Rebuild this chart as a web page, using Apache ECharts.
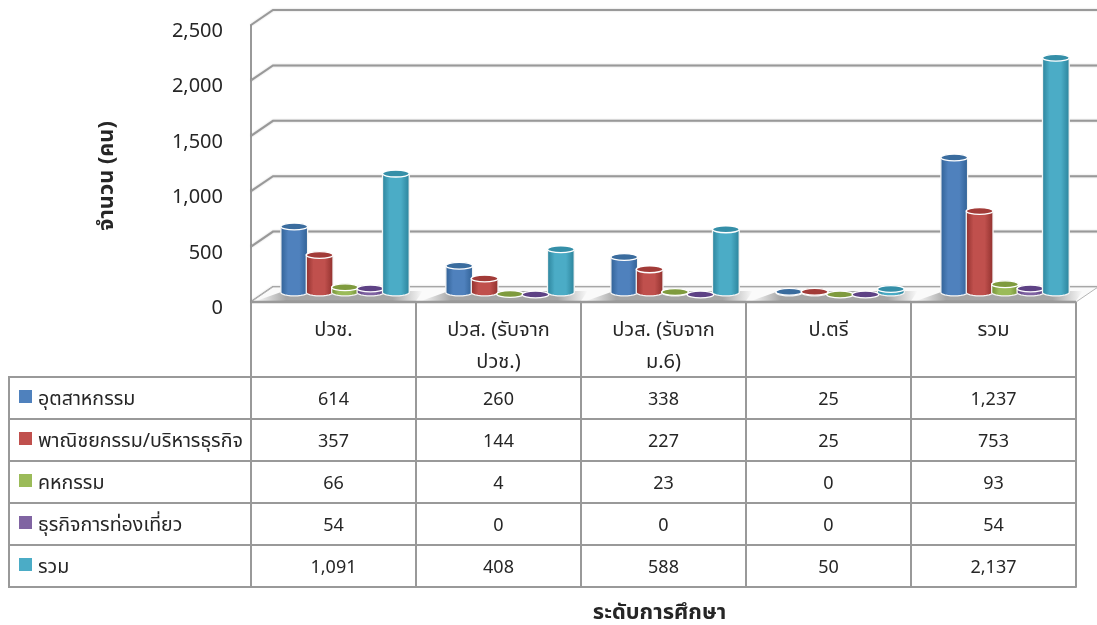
<!DOCTYPE html>
<html><head><meta charset="utf-8">
<style>html,body{margin:0;padding:0;background:#fff}#c{width:1097px;height:625px}</style>
<script src="https://cdn.jsdelivr.net/npm/echarts@6/dist/echarts.min.js"></script>
</head><body><div id="c"></div>
<script>
const categories = ['ปวช.', 'ปวส. (รับจาก\nปวช.)', 'ปวส. (รับจาก\nม.6)', 'ป.ตรี', 'รวม'];
const seriesNames = ['อุตสาหกรรม', 'พาณิชยกรรม/บริหารธุรกิจ', 'คหกรรม', 'ธุรกิจการท่องเที่ยว', 'รวม'];
const industry = [614, 260, 338, 25, 1237];
const commerce = [357, 144, 227, 25, 753];
const homeEconomics = [66, 4, 23, 0, 93];
const tourism = [54, 0, 0, 0, 54];
const total = [1091, 408, 588, 50, 2137];
const yTicks = [0, 500, 1000, 1500, 2000, 2500];
const seriesValues = [industry, commerce, homeEconomics, tourism, total];
const colors = ['#4F81BD', '#C0504D', '#9BBB59', '#8064A2', '#4BACC6'];
const darks = ['#2F5F93', '#8E2F2C', '#6F8C33', '#54397A', '#2A8199'];
const tops = ['#3A6C9E', '#A23B38', '#7F9B3E', '#5E4285', '#358FA8'];

const FONT = '"Noto Sans Thai","Noto Sans","Open Sans",sans-serif';
const GRID_LINE = '#999999';
const chart = echarts.init(document.getElementById('c'), null, {renderer: 'canvas'});

const fmt = v => v.toLocaleString('en-US');
const DX = 22, DY = -15;

function frameItem(params, api) {
  const cs = params.coordSys;
  const y = api.coord([0, api.value(0)])[1];
  const x0 = cs.x, x1 = cs.x + cs.width;
  return {type: 'polyline', shape: {points: [[x0, y], [x0 + DX, y + DY], [x1 + DX, y + DY]]},
    style: {stroke: GRID_LINE, lineWidth: 2, fill: null, shadowColor: 'rgba(0,0,0,0.2)', shadowBlur: 2}};
}
function floorItem(params, api) {
  const cs = params.coordSys;
  const y = api.coord([0, 0])[1];
  const x0 = cs.x, x1 = cs.x + cs.width;
  return {type: 'group', children: [
    {type: 'polygon', shape: {points: [[x0, y], [x1, y], [x1 + DX, y + DY], [x0 + DX, y + DY]]},
     style: {fill: '#fafafa', stroke: '#b5b5b5', lineWidth: 1}},
    {type: 'line', shape: {x1: x0, y1: y, x2: x1, y2: y}, style: {stroke: GRID_LINE, lineWidth: 2.5}}
  ]};
}
function shadowItem(params, api) {
  const c = api.coord([api.value(0), 0]);
  const w = api.size([1, 0])[0];
  const y = c[1];
  return {type: 'polygon', shape: {points: [[c[0] - w * 0.47 , y - 1], [c[0] + w * 0.5, y - 1], [c[0] + w * 0.54, y - 11], [c[0] - w * 0.3, y - 11]]},
    style: {fill: new echarts.graphic.LinearGradient(0, 0, 1, 0, [
      {offset: 0, color: 'rgba(120,120,120,0)'}, {offset: 0.18, color: 'rgba(120,120,120,0.65)'},
      {offset: 0.82, color: 'rgba(120,120,120,0.65)'}, {offset: 1, color: 'rgba(120,120,120,0)'}])}};
}
function cylinderItem(si) {
  return function (params, api) {
    const cat = api.value(0), val = api.value(1);
    const p = api.coord([cat, val]), p0 = api.coord([cat, 0]);
    const cw = api.size([1, 0])[0];
    const pitch = cw * 0.154, rx = cw * 0.081, ry = 3.4;
    const cx = p[0] + cw * 0.07 + (si - 2) * pitch;
    const yTop = p[1] - 7.5, yBase = p0[1] - 9.5;
    const els = [];
    if (yBase - yTop > 0.5) {
      const pts = [[cx - rx, yTop], [cx + rx, yTop]];
      for (let a = 0; a <= 12; a++) {
        const t = a / 12 * Math.PI;
        pts.push([cx + rx * Math.cos(t), yBase + ry * Math.sin(t)]);
      }
      els.push({type: 'polygon', shape: {points: pts}, style: {
        fill: new echarts.graphic.LinearGradient(0, 0, 1, 0, [
          {offset: 0, color: darks[si]}, {offset: 0.28, color: colors[si]},
          {offset: 0.68, color: colors[si]}, {offset: 1, color: darks[si]}]),
        stroke: '#f4f4f4', lineWidth: 1.3}});
    }
    els.push({type: 'ellipse', shape: {cx: cx, cy: yTop, rx: rx, ry: ry},
      style: {fill: tops[si], stroke: '#ffffff', lineWidth: 1.3}});
    return {type: 'group', children: els};
  };
}
function cellItem(params, api) {
  const c = api.coord([api.value(0), api.value(1)]);
  return {type: 'text', x: c[0], y: c[1] + 3.5,
    style: {text: fmt(api.value(2)), align: 'center', verticalAlign: 'middle', fontSize: 18, fontFamily: FONT, fill: '#262626'}};
}
function legendItem(params, api) {
  const r = api.value(0);
  const y = api.coord([0, r])[1];
  const left = params.coordSys.x;
  return {type: 'group', children: [
    {type: 'rect', shape: {x: left - 232, y: y - 8, width: 13, height: 13}, style: {fill: colors[r]}},
    {type: 'text', x: left - 213, y: y + 3, style: {text: seriesNames[r], align: 'left', verticalAlign: 'middle',
      fontSize: 19.6, fontFamily: FONT, fill: '#262626'}}
  ]};
}

const cells = [];
seriesValues.forEach((arr, r) => arr.forEach((v, c) => cells.push([c, r, v])));

const option = {
  animation: false,
  backgroundColor: '#fff',
  textStyle: {fontFamily: FONT},
  grid: [
    {left: 251, top: 25, width: 825, height: 277, outerBoundsMode: 'none'},
    {left: 251, top: 377, width: 825, height: 210, outerBoundsMode: 'none'}
  ],
  xAxis: [
    {type: 'category', gridIndex: 0, data: categories,
     axisLine: {show: false},
     axisTick: {show: true, length: 75, lineStyle: {color: GRID_LINE, width: 2}},
     axisLabel: {fontSize: 20, fontFamily: FONT, color: '#262626', margin: 14, lineHeight: 32, verticalAlign: 'top', interval: 0},
     splitLine: {show: false}},
    {type: 'category', gridIndex: 1, data: categories,
     name: 'ระดับการศึกษา', nameLocation: 'middle', nameGap: 17,
     nameTextStyle: {fontSize: 21.8, fontWeight: 'bold', fontFamily: FONT, color: '#262626', verticalAlign: 'top', padding: [0, 8, 0, 0]},
     axisLine: {show: true, lineStyle: {color: GRID_LINE, width: 2}},
     axisTick: {show: false}, axisLabel: {show: false},
     splitLine: {show: true, interval: 0, lineStyle: {color: GRID_LINE, width: 2}}}
  ],
  yAxis: [
    {type: 'value', gridIndex: 0, min: 0, max: 2500, interval: 500,
     axisLine: {show: true, lineStyle: {color: GRID_LINE, width: 2}},
     axisTick: {show: false},
     axisLabel: {fontSize: 20, fontFamily: FONT, color: '#262626', margin: 28, formatter: v => fmt(v), verticalAlign: 'top', lineHeight: 16},
     splitLine: {show: false}},
    {type: 'category', gridIndex: 1, inverse: true, data: seriesNames,
     axisLine: {show: true, lineStyle: {color: GRID_LINE, width: 2}},
     axisTick: {show: true, length: 242, lineStyle: {color: GRID_LINE, width: 2}},
     axisLabel: {show: false},
     splitLine: {show: true, interval: 0, lineStyle: {color: GRID_LINE, width: 2}}}
  ],
  graphic: [
    {type: 'line', shape: {x1: 9, y1: 376, x2: 9, y2: 588}, style: {stroke: GRID_LINE, lineWidth: 2}, silent: true},
    {type: 'text', x: 109, y: 176, rotation: Math.PI / 2, silent: true,
     style: {text: 'จำนวน (คน)', align: 'center', verticalAlign: 'middle', fontSize: 21.8, fontWeight: 'bold', fontFamily: FONT, fill: '#262626'}}
  ],
  series: [
    {type: 'custom', name: 'walls', xAxisIndex: 0, yAxisIndex: 0, z: 1, silent: true, clip: false,
     data: yTicks.map(v => [v]), encode: {y: 0}, renderItem: frameItem},
    {type: 'custom', name: 'floor', xAxisIndex: 0, yAxisIndex: 0, z: 2, silent: true, clip: false,
     data: [[0]], renderItem: floorItem},
    {type: 'custom', name: 'shadow', xAxisIndex: 0, yAxisIndex: 0, z: 3, silent: true, clip: false,
     data: categories.map((c, i) => [i]), encode: {x: 0}, renderItem: shadowItem},
    ...seriesNames.map((n, si) => ({
      type: 'custom', name: n, xAxisIndex: 0, yAxisIndex: 0, z: 4 + si, clip: false,
      data: seriesValues[si].map((v, i) => [i, v]), encode: {x: 0, y: 1},
      renderItem: cylinderItem(si)})),
    {type: 'custom', name: 'table', xAxisIndex: 1, yAxisIndex: 1, z: 10, silent: true,
     data: cells, encode: {x: 0, y: 1}, renderItem: cellItem},
    {type: 'custom', name: 'tableLegend', xAxisIndex: 1, yAxisIndex: 1, z: 10, silent: true, clip: false,
     data: seriesNames.map((n, r) => [r]), encode: {y: 0}, renderItem: legendItem}
  ]
};
chart.setOption(option);
</script></body></html>
